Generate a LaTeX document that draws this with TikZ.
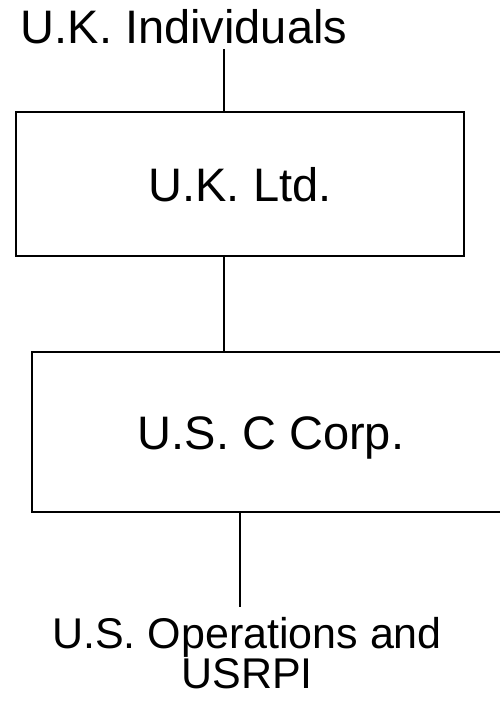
\documentclass[tikz,border=0pt]{standalone}
\usepackage{fontspec}
\setmainfont{Liberation Sans}
\begin{document}
\begin{tikzpicture}[x=1pt,y=-1pt,
  line width=2pt,
  entity/.style={draw=black, line width=2pt, rectangle, inner sep=0pt,
    font=\fontsize{47}{56}\selectfont, text height=34pt, text depth=0pt},
  caption/.style={inner sep=0pt, anchor=base, font=\fontsize{47}{56}\selectfont},
  link/.style={draw=black, line width=2pt}]
  \clip (0,0) rectangle (500,702);
  \fill[white] (0,0) rectangle (500,702);

  % owners
  \node[caption] (owners) at (184,43) {U.K. Individuals};

  % companies
  \node[entity, minimum width=448pt, minimum height=144pt] (ltd) at (240,184) {U.K. Ltd.};
  \node[entity, minimum width=478pt, minimum height=160pt] (corp) at (271,432) {U.S. C Corp.};

  % operations (base anchor sits on the last line)
  \node[caption, align=center, font=\fontsize{43}{37}\selectfont] (ops) at (247,688)
    {U.S. Operations and\\USRPI};

  % connector ends
  \coordinate (a) at (224,49);
  \coordinate (b) at (224,0);
  \coordinate (c) at (240,607);

  \draw[link] (a) -- (a |- ltd.north);
  \draw[link] (b |- ltd.south) -- (b |- corp.north);
  \draw[link] (c |- corp.south) -- (c);
\end{tikzpicture}
\end{document}
